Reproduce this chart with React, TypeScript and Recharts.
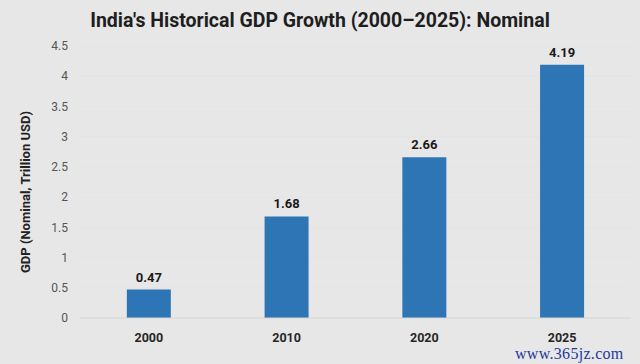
import { Bar, BarChart, CartesianGrid, LabelList, XAxis, YAxis } from 'recharts'

const years = ['2000', '2010', '2020', '2025']
const gdp = [0.47, 1.68, 2.66, 4.19]
const yTicks = [0, 0.5, 1, 1.5, 2, 2.5, 3, 3.5, 4, 4.5]

const BAR = '#2e75b6'
const BG = '#e7e7e7'
const FONT = 'Roboto, "Liberation Sans", sans-serif'

const data = years.map((year, i) => ({ year, value: gdp[i] }))

function YLabel({ viewBox }: any) {
  const cx = 25
  const cy = viewBox.y + viewBox.height / 2 + 10
  return (
    <text
      x={cx}
      y={cy}
      transform={`rotate(-90 ${cx} ${cy})`}
      textAnchor="middle"
      dominantBaseline="central"
      fontSize={13}
      fontWeight={700}
      fill="#222"
      fontFamily={FONT}
    >
      GDP (Nominal, Trillion USD)
    </text>
  )
}

export default function App() {
  return (
    <div
      style={{
        position: 'absolute',
        left: 0,
        top: 0,
        width: 640,
        height: 364,
        background: BG,
        fontFamily: FONT,
      }}
    >
      <div
        style={{
          position: 'absolute',
          top: 9,
          left: 0,
          width: 640,
          textAlign: 'center',
          fontSize: 19.5,
          fontWeight: 700,
          color: '#1e1e1e',
        }}
      >
        India's Historical GDP Growth (2000–2025): Nominal
      </div>
      <BarChart
        width={640}
        height={364}
        data={data}
        margin={{ top: 46, right: 9, left: 0, bottom: 16 }}
        barCategoryGap="34%"
      >
        <CartesianGrid vertical={false} stroke="#e4e4e4" />
        <XAxis
          dataKey="year"
          height={30}
          tickLine={false}
          axisLine={{ stroke: '#d6d6d6' }}
          tickMargin={9}
          tick={{ fontSize: 12.5, fontWeight: 700, fill: '#262626', fontFamily: FONT }}
        />
        <YAxis
          width={80}
          domain={[0, 4.5]}
          ticks={yTicks}
          interval={0}
          tickLine={false}
          axisLine={false}
          tickMargin={6}
          tick={{ fontSize: 12, fill: '#555', fontFamily: FONT }}
          label={<YLabel />}
        />
        <Bar dataKey="value" fill={BAR} isAnimationActive={false}>
          <LabelList
            dataKey="value"
            position="top"
            offset={8}
            style={{ fontSize: 13, fontWeight: 700, fill: '#1a1a1a', fontFamily: FONT }}
          />
        </Bar>
      </BarChart>
      <div
        style={{
          position: 'absolute',
          left: 515,
          top: 346,
          fontSize: 16,
          lineHeight: '16px',
          color: '#1f3b99',
          fontFamily: '"Liberation Serif", serif',
          letterSpacing: 0.3,
        }}
      >
        www.365jz.com
      </div>
    </div>
  )
}
